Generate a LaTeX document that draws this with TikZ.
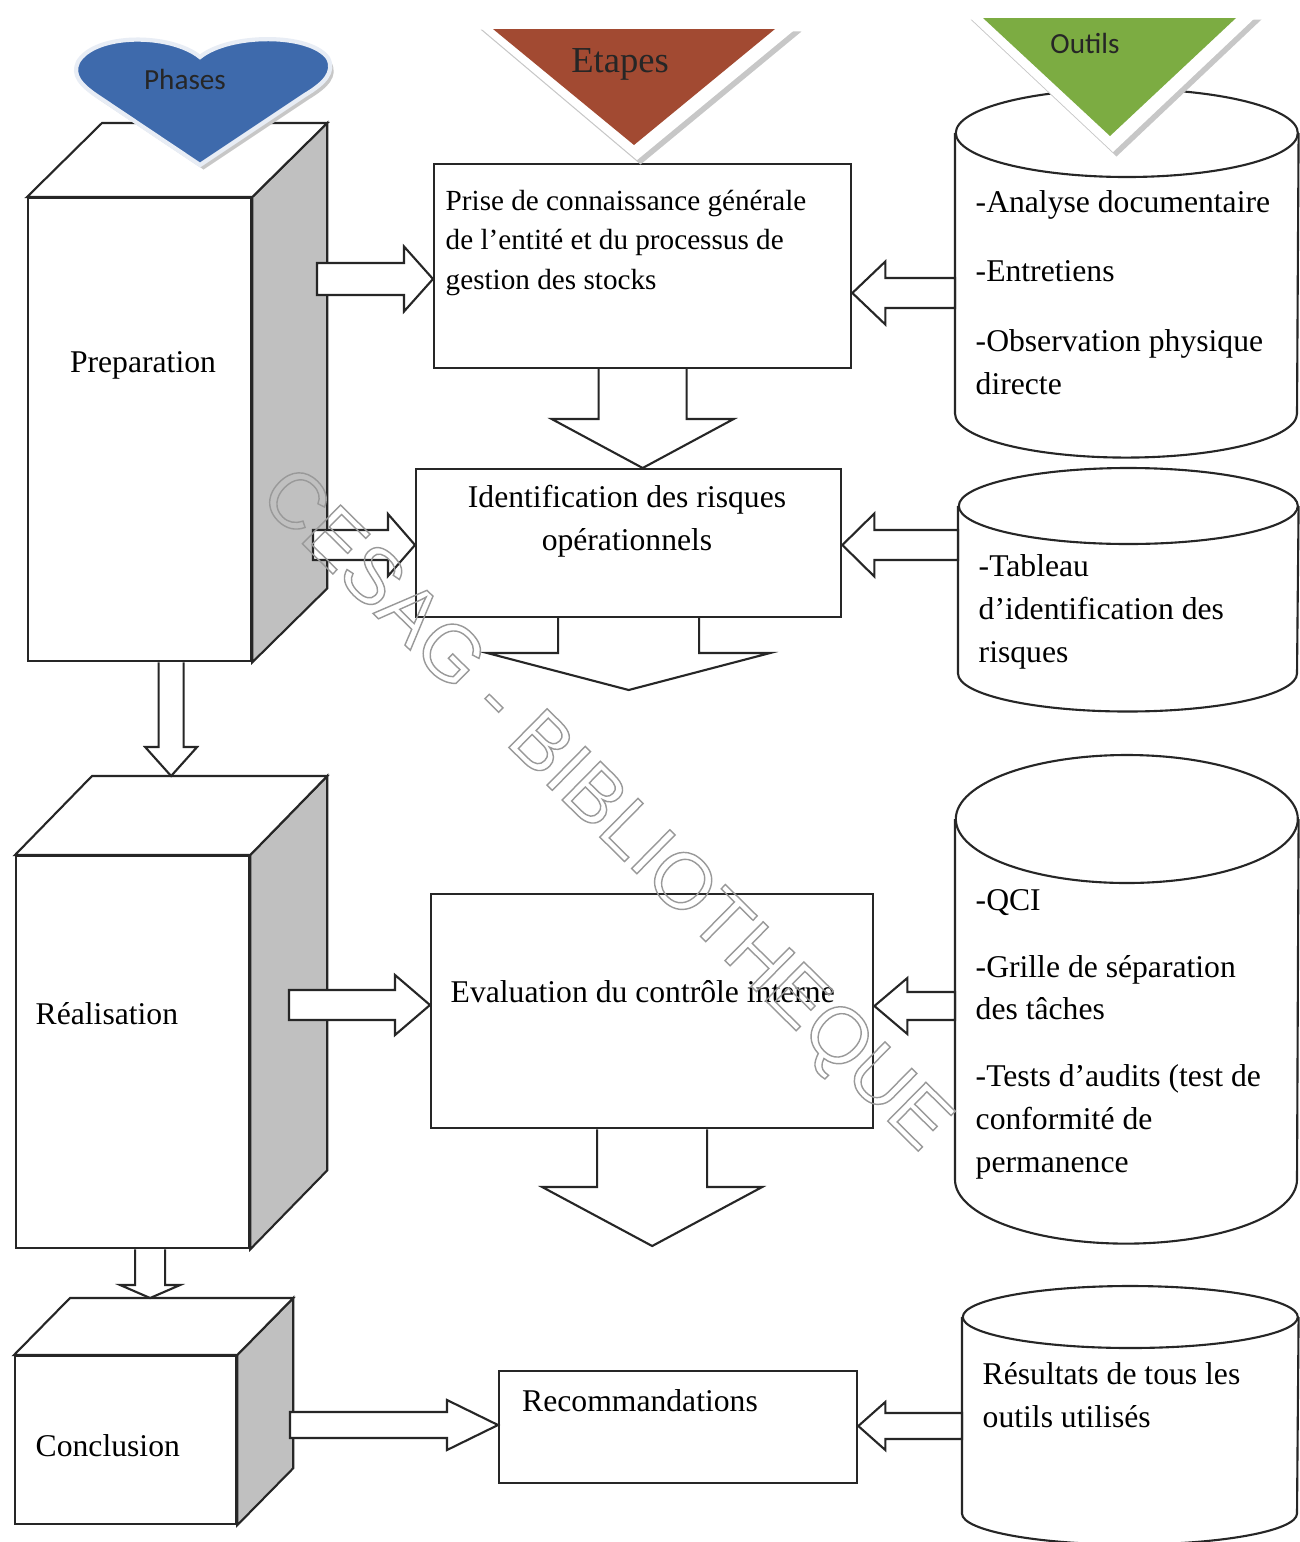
\documentclass[tikz,border=0pt]{standalone}
\usepackage{fontspec}
\setmainfont{Liberation Serif}
\newfontfamily\headfont{Carlito}
\newfontfamily\markfont{Liberation Sans}
\usetikzlibrary{calc}

\definecolor{phaseblue}{RGB}{62,106,172}
\definecolor{etapebrown}{RGB}{162,74,50}
\definecolor{outilgreen}{RGB}{124,172,66}
\definecolor{sidegray}{RGB}{192,192,192}

\tikzset{
    outline/.style={draw=black!85, line width=0.6pt},
    face/.style={outline, fill=white, inner sep=0pt},
    sideface/.style={outline, fill=sidegray},
    stepbox/.style={face, anchor=north west},
    cylbody/.style={inner sep=0pt, anchor=north west},
    txt/.style={font=\fontsize{9}{12.1}\selectfont, inner sep=0pt, align=left},
    fat/.style={outline, fill=white, line join=miter},
    shadowed/.style={preaction={fill=black!22, transform canvas={xshift=0.035cm, yshift=-0.045cm}}},
}

% side and top of a phase block
\newcommand{\extrude}[3]{%
    \draw[sideface] (#1.north east) -- ++(#2,#3) -- ($(#1.south east)+(#2,#3)$) -- (#1.south east) -- cycle;
    \draw[face] (#1.north west) -- ++(#2,#3) -- ($(#1.north east)+(#2,#3)$) -- (#1.north east) -- cycle;
    \coordinate (#1-back) at ($(#1.north west)+(#2,#3)$);
}
% cylinder drawn round a body node
\newcommand{\toolcyl}[3]{%
    \draw[outline, fill=white] (#1.north west) -- (#1.south west)
        arc[start angle=180, end angle=360, x radius=#2, y radius=#3] -- (#1.north east);
    \draw[outline, fill=white] (#1.north) ellipse [x radius=#2, y radius=#3];
}
% block arrows: start, target, half shaft, half head, head length
\newcommand{\blockdown}[5]{%
    \coordinate (ba-s) at (#1);
    \coordinate (ba-t) at (ba-s |- #2);
    \draw[fat] ($(ba-s)+(-#3,0)$) -- ($(ba-t)+(-#3,#5)$) -- ($(ba-t)+(-#4,#5)$) -- (ba-t)
        -- ($(ba-t)+(#4,#5)$) -- ($(ba-t)+(#3,#5)$) -- ($(ba-s)+(#3,0)$);
}
\newcommand{\blockside}[5]{%
    \coordinate (ba-s) at (#1);
    \coordinate (ba-t) at (#2 |- ba-s);
    \draw[fat] ($(ba-s)+(0,#3)$) -- ($(ba-t)+({-(#5)},#3)$) -- ($(ba-t)+({-(#5)},#4)$) -- (ba-t)
        -- ($(ba-t)+({-(#5)},-#4)$) -- ($(ba-t)+({-(#5)},-#3)$) -- ($(ba-s)+(0,-#3)$) -- cycle;
}

\begin{document}
\begin{tikzpicture}[x=0.01cm, y=0.01cm]
    \useasboundingbox[fill=white] (0,0) rectangle (1299,-1542);

    % phases
    \node[face, minimum width=2.23cm, minimum height=4.63cm, anchor=north west] (prep) at (27,-197) {};
    \extrude{prep}{75}{74}
    \node[face, minimum width=2.33cm, minimum height=3.92cm, anchor=north west] (real) at (15,-855) {};
    \extrude{real}{77}{79}
    \node[face, minimum width=2.21cm, minimum height=1.68cm, anchor=north west] (concl) at (14,-1355) {};
    \extrude{concl}{56}{57}
    \node[txt, anchor=base] (preptxt) at (143,-372) {Preparation};
    \node[txt, anchor=base west] (realtxt) at (35,-1024) {Réalisation};
    \node[txt, anchor=base west] (concltxt) at (35,-1456) {Conclusion};
    \blockdown{$(prep.south)+(31.5,0)$}{real-back}{12.5}{26}{29}
    \blockdown{$(real.south)+(17.5,0)$}{concl-back}{15}{30}{13}

    % steps
    \node[stepbox, minimum width=4.17cm, minimum height=2.04cm] (prise) at (433,-163) {};
    \node[stepbox, minimum width=4.25cm, minimum height=1.48cm] (ident) at (415,-468) {};
    \node[stepbox, minimum width=4.42cm, minimum height=2.34cm] (eval) at (430,-893) {};
    \node[stepbox, minimum width=3.58cm, minimum height=1.12cm] (recom) at (498,-1370) {};
    \coordinate (identout) at (627,-690);
    \coordinate (evalout) at (650,-1246);
    \blockdown{prise.south}{ident.north}{44}{91}{49}
    \blockdown{ident.south}{identout}{70.5}{141.5}{37}
    \blockdown{eval.south}{evalout}{55}{110}{59}
    \node[txt, font=\fontsize{8.3}{11.1}\selectfont, anchor=base west] (prisetxt) at (445,-289)
        {Prise de connaissance générale\\de l’entité et du processus de\\gestion des stocks};
    \node[txt, align=center, anchor=base] (identtxt) at (627,-550) {Identification des risques\\opérationnels};
    \node[txt, anchor=base west] (evaltxt) at (450,-1002) {Evaluation du contrôle interne};
    \node[txt, anchor=base] (recomtxt) at (640,-1411) {Recommandations};

    % tools
    \node[cylbody, minimum width=3.42cm, minimum height=2.79cm] (cyla) at (955,-133) {};
    \toolcyl{cyla}{171}{44}
    \node[cylbody, minimum width=3.39cm, minimum height=1.66cm] (cylb) at (958,-506) {};
    \toolcyl{cylb}{169.5}{38}
    \node[cylbody, minimum width=3.42cm, minimum height=3.59cm] (cylc) at (955,-819) {};
    \toolcyl{cylc}{171}{64}
    \node[cylbody, minimum width=3.35cm, minimum height=1.95cm] (cyld) at (962,-1317) {};
    \toolcyl{cyld}{167.5}{31}
    \node[txt, anchor=base west] (cylatxt) at (975,-394)
        {-Analyse documentaire\\[7.7pt]-Entretiens\\[7.7pt]-Observation physique\\directe};
    \node[txt, anchor=base west] (cylbtxt) at (978,-662) {-Tableau\\d’identification des\\risques};
    \node[txt, anchor=base west] (cylctxt) at (975,-1172)
        {-QCI\\[7pt]-Grille de séparation\\des tâches\\[7pt]-Tests d’audits (test de\\conformité de\\permanence};
    \node[txt, anchor=base west] (cyldtxt) at (982,-1427) {Résultats de tous les\\outils utilisés};

    % arrows into the steps
    \coordinate (prepa) at (317,-279);
    \coordinate (prepb) at (313,-545);
    \coordinate (reala) at (289,-1005);
    \coordinate (concla) at (290,-1425);
    \blockside{prepa}{prise.west}{16}{32.5}{29}
    \blockside{prepb}{ident.west}{15}{31}{27}
    \blockside{reala}{eval.west}{15}{30}{35}
    \blockside{concla}{recom.west}{13}{25}{51}
    \coordinate (cylaout) at (955,-293);
    \coordinate (cylbout) at (958,-545);
    \coordinate (cylcout) at (955,-1006);
    \coordinate (cyldout) at (962,-1426);
    \blockside{cylaout}{prise.east}{15}{31.5}{-33}
    \blockside{cylbout}{ident.east}{15}{31.5}{-32}
    \blockside{cylcout}{eval.east}{14}{28}{-33}
    \blockside{cyldout}{recom.east}{13}{24}{-27}

    % headers
    \draw[shadowed, fill=phaseblue, draw=white!88!phaseblue, line width=1.2pt]
        (200,-57) .. controls (170,-33) and (95,-33) .. (78,-62) .. controls (72,-75) and (80,-85) .. (100,-98)
        -- (200,-165) -- (305,-95) .. controls (325,-83) and (335,-72) .. (328,-58)
        .. controls (310,-33) and (230,-33) .. (200,-57) -- cycle;
    \fill[shadowed, white] (477,-25) -- (798,-27) -- (637,-160) -- cycle;
    \fill[etapebrown] (493,-29) -- (775,-29) -- (634,-145) -- cycle;
    \fill[shadowed, white] (967,-15) -- (1258,-15) -- (1113,-152) -- cycle;
    \fill[outilgreen] (983,-18) -- (1236,-18) -- (1110,-136) -- cycle;
    \node[font=\headfont\fontsize{8.3}{10}\selectfont, text=black!85, inner sep=0pt, anchor=base] (phases) at (185,-89) {Phases};
    \node[font=\fontsize{10.4}{12}\selectfont, text=black!85, inner sep=0pt, anchor=base] (etapes) at (620,-72) {Etapes};
    \node[font=\headfont\fontsize{8.3}{10}\selectfont, text=black!85, inner sep=0pt, anchor=base] (outils) at (1085,-53) {Outils};

    % watermark
    \node[font=\markfont\fontsize{22.5}{27}\selectfont, text=black!40, rotate=-44.6] (filigrane) at (603,-812)
        {\special{pdf:literal direct 1 Tr 0.4 w}CESAG - BIBLIOTHEQUE\special{pdf:literal direct 0 Tr}};
\end{tikzpicture}
\end{document}
